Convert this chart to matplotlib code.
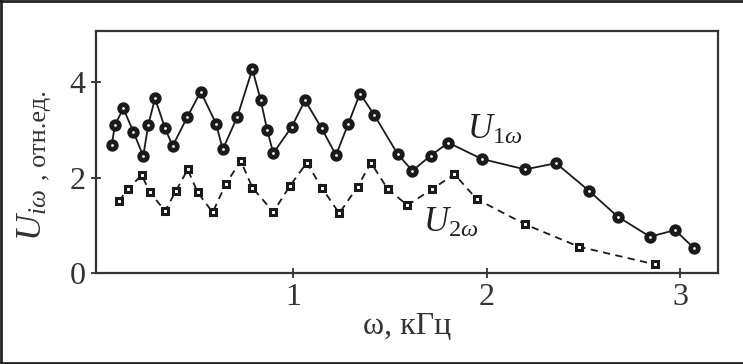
import matplotlib
matplotlib.use('Agg')
import matplotlib.pyplot as plt
from matplotlib.lines import Line2D

plt.rcParams['font.family'] = ['Liberation Serif', 'DejaVu Serif']
plt.rcParams['mathtext.fontset'] = 'custom'
plt.rcParams['mathtext.rm'] = 'Liberation Serif'
plt.rcParams['mathtext.it'] = 'Liberation Serif:italic'

# U_1w (circles, solid line)
u1_freq = [0.063, 0.080, 0.123, 0.175, 0.226, 0.252, 0.287, 0.339, 0.378, 0.454,
           0.523, 0.602, 0.637, 0.712, 0.790, 0.833, 0.867, 0.898, 0.993, 1.062,
           1.148, 1.222, 1.286, 1.346, 1.420, 1.541, 1.617, 1.711, 1.803, 1.975,
           2.199, 2.359, 2.530, 2.678, 2.845, 2.974, 3.072]
u1_vals = [2.68, 3.10, 3.45, 2.96, 2.45, 3.10, 3.66, 3.03, 2.66, 3.27,
           3.80, 3.13, 2.59, 3.27, 4.27, 3.62, 2.99, 2.51, 3.06, 3.62,
           3.03, 2.47, 3.13, 3.76, 3.31, 2.49, 2.14, 2.46, 2.73, 2.39,
           2.17, 2.30, 1.72, 1.18, 0.76, 0.90, 0.52]

# U_2w (squares, dashed line)
u2_freq = [0.101, 0.149, 0.218, 0.261, 0.339, 0.395, 0.456, 0.507, 0.585, 0.652,
           0.730, 0.790, 0.898, 0.985, 1.071, 1.148, 1.239, 1.334, 1.403, 1.489,
           1.591, 1.720, 1.834, 1.949, 2.199, 2.478, 2.871]
u2_vals = [1.51, 1.77, 2.05, 1.69, 1.30, 1.72, 2.17, 1.69, 1.27, 1.86,
           2.35, 1.79, 1.28, 1.83, 2.31, 1.79, 1.25, 1.81, 2.31, 1.76,
           1.42, 1.76, 2.07, 1.55, 1.02, 0.55, 0.18]

xticks = [1, 2, 3]
yticks = [0, 2, 4]

fig = plt.figure(figsize=(7.43, 3.64), dpi=100)
ax = fig.add_axes([96 / 743, 1 - 273 / 364, 622 / 743, 242 / 364])

ax.plot(u1_freq, u1_vals, color='#1a1a1a', lw=1.3, marker='o', ms=5.5,
        mfc='white', mec='#1a1a1a', mew=3.4)
ax.plot(u2_freq, u2_vals, color='#1a1a1a', lw=1.3, ls=(0, (4, 3)), marker='s',
        ms=4.5, mfc='white', mec='#1a1a1a', mew=2.2)

ax.text(1.9, 2.8, r'$U_{\mathit{1}\omega}$', fontsize=25, color='#222222')
ax.text(1.67, 0.86, r'$U_{\mathit{2}\omega}$', fontsize=25, color='#222222')

ax.set_xlim(-0.018, 3.196)
ax.set_ylim(0, 5.07)
ax.set_xticks(xticks)
ax.set_yticks(yticks)
ax.tick_params(direction='inout', length=7, width=1.3, labelsize=23,
               color='#333333', labelcolor='#333333', pad=4)
for s in ax.spines.values():
    s.set_linewidth(1.6)
    s.set_color('#333333')

ax.set_xlabel('ω, кГц', fontsize=23, color='#333333', labelpad=0)

# y label: big italic U with subscript, units after it
fig.text(33 / 743, 1 - 215 / 364, r'$U_{i\omega}$', fontsize=26, rotation=90,
         ha='center', va='center', color='#333333')
fig.text(40 / 743, 1 - 135 / 364, ', отн.ед.', fontsize=19, rotation=90,
         ha='center', va='center', color='#333333')

# outer frame of the picture
for xs, ys in [([0.002, 0.002], [0, 1]), ([0, 1], [0.998, 0.998]), ([0, 1], [0.004, 0.004])]:
    fig.add_artist(Line2D(xs, ys, transform=fig.transFigure, color='#222222', lw=2))

fig.savefig('out.png', dpi=100)
